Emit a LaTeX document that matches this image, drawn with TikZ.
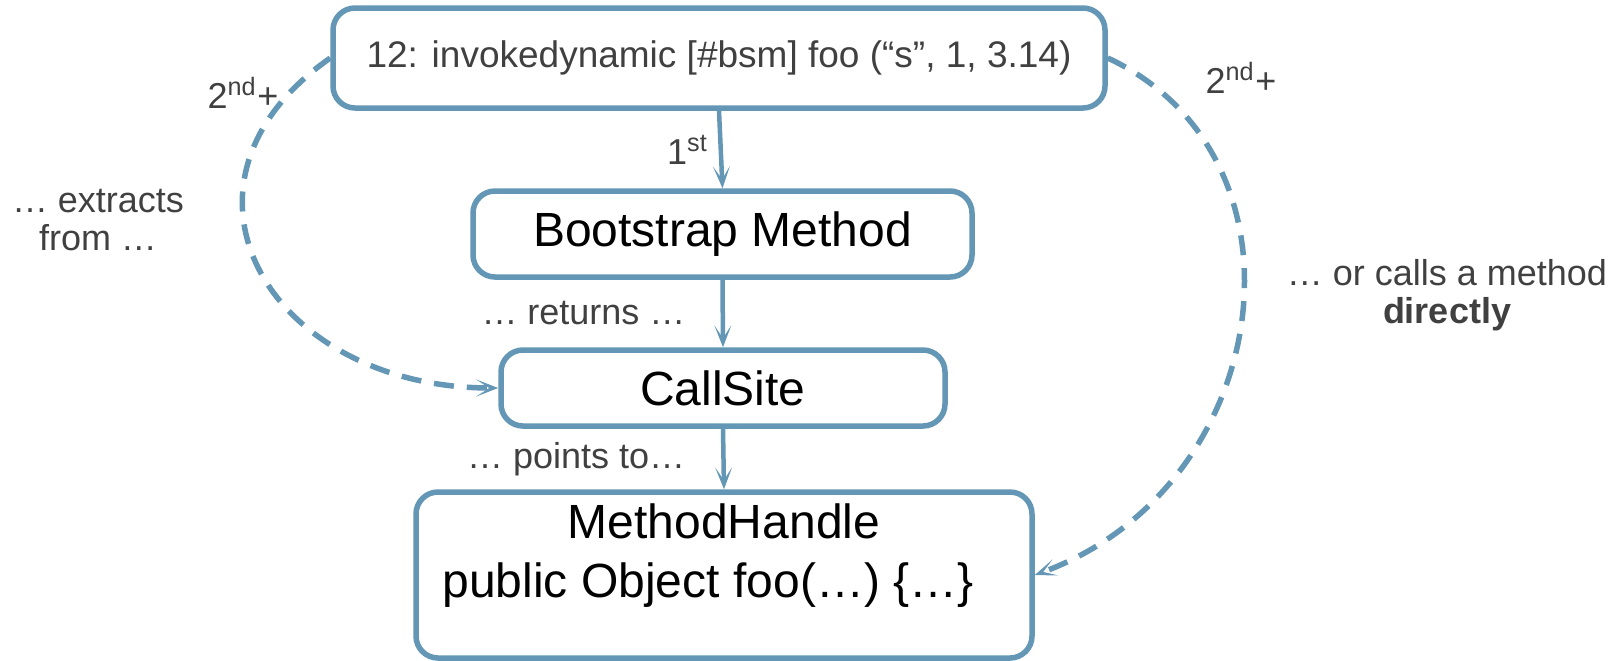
\documentclass[tikz,border=0pt]{standalone}
\usepackage{fontspec}
\setmainfont{Liberation Sans}
\usetikzlibrary{arrows.meta,positioning}
\definecolor{edgeblue}{RGB}{100,151,181}
\definecolor{labelgray}{RGB}{64,64,64}
\tikzset{
	box/.style={draw=edgeblue, line width=0.055cm, rounded corners=0.22cm, fill=white, inner sep=0pt},
	boxtext/.style={font=\fontsize{13.66}{16.8}\selectfont, align=center},
	flow/.style={draw=edgeblue, line width=0.045cm, -{Stealth[length=0.22cm, width=0.17cm, inset=0.13cm]}},
	jump/.style={draw=edgeblue, line width=0.055cm, dash pattern=on 0.2cm off 0.13cm, -{Stealth[length=0.22cm, width=0.17cm, inset=0.13cm]}},
	lbl/.style={text=labelgray, font=\fontsize{10.24}{10.8}\selectfont, align=center, inner sep=0pt}
}
\begin{document}
\begin{tikzpicture}
	\useasboundingbox (0,0) rectangle (16.22,-6.60);
	
	%boxes
	\node[box, minimum width=7.72cm, minimum height=1.0cm, text=labelgray, font=\fontsize{10.53}{12}\selectfont] (site) at (7.19,-0.58) {12: invokedynamic [\#bsm] foo (“s”, 1, 3.14)};
	\node[box, boxtext, minimum width=4.99cm, minimum height=0.86cm] (bsm) at (7.225,-2.34) {Bootstrap Method};
	\node[box, boxtext, minimum width=4.44cm, minimum height=0.76cm] (cs) at (7.23,-3.88) {CallSite};
	\node[box, minimum width=6.16cm, minimum height=1.66cm] (mh) at (7.24,-5.75) {};
	\node[boxtext] (mhtext) at (7.24,-5.56) {MethodHandle\\public Object foo(…) \{…\}\hspace*{0.32cm}};
	
	%first call
	\draw[flow] (site.south) -- (bsm.north) node[lbl, midway, left=0.1cm] (first) {1\textsuperscript{st}};
	\draw[flow] (bsm.south) -- (cs.north) node[lbl, midway, left=0.35cm] (ret) {… returns …};
	\draw[flow] (cs.south) -- (mh.north) node[lbl, midway, left=0.36cm] (pts) {… points to…};
	
	%later calls
	\draw[jump] (site.west) to[out=215, in=180, out distance=2.2cm, in distance=2.3cm] (cs.west);
	\draw[jump] (site.east) to[out=-25, in=20, out distance=2.35cm, in distance=2.55cm] (mh.east);
	\node[lbl] (ndleft) at (2.43,-0.93) {2\textsuperscript{nd}+};
	\node[lbl] (ndright) at (12.41,-0.78) {2\textsuperscript{nd}+};
	\node[lbl] (extr) at (0.98,-2.20) {… extracts\\from …};
	\node[lbl] (calls) at (14.47,-2.95) {… or calls a method\\\textbf{directly}};
\end{tikzpicture}
\end{document}
